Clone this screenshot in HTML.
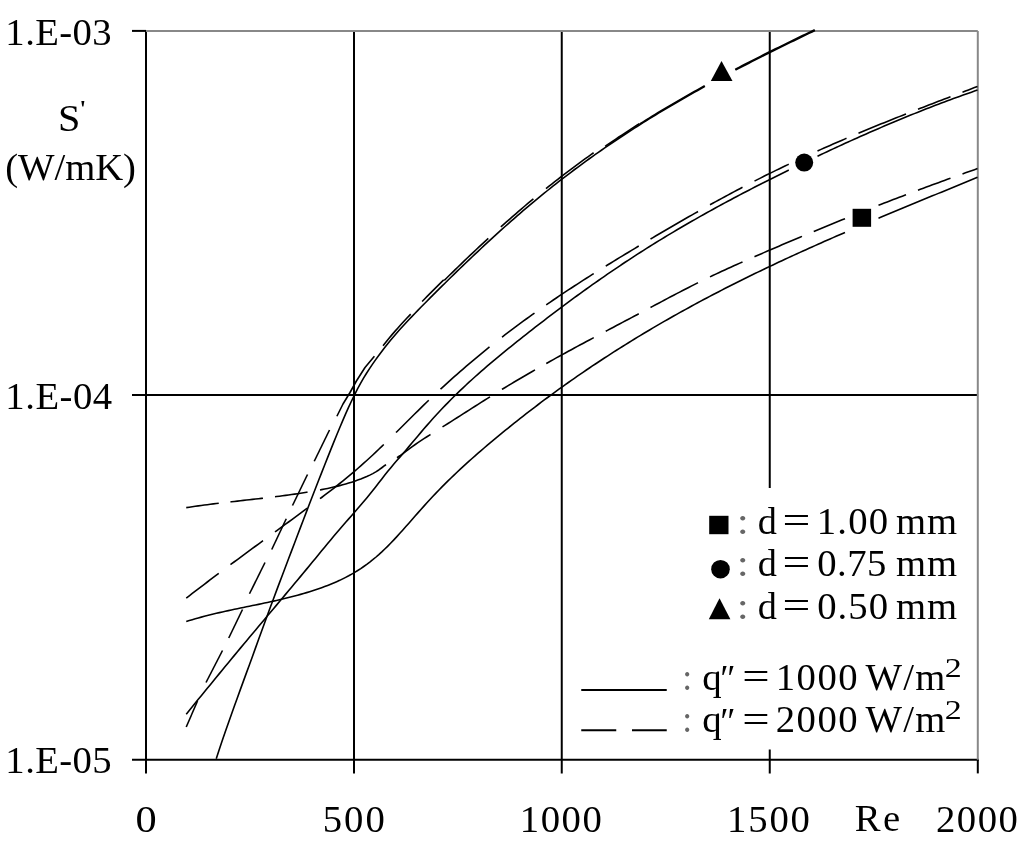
<!DOCTYPE html>
<html lang="en"><head><meta charset="utf-8"><title>S' vs Re</title>
<style>html,body{margin:0;padding:0;background:#fff;overflow:hidden}svg{display:block}</style>
</head><body>
<svg width="1024" height="845" viewBox="0 0 1024 845">
<rect width="1024" height="845" fill="#fff"/>
<g fill="none" stroke="#000" stroke-width="2">
<line x1="354.00" y1="30.90" x2="354.00" y2="773.40"/>
<line x1="561.75" y1="30.90" x2="561.75" y2="773.40"/>
<line x1="769.75" y1="30.90" x2="769.75" y2="773.40"/>
<line x1="132.00" y1="395.00" x2="977.80" y2="395.00"/>
<line x1="146.00" y1="29.90" x2="146.00" y2="773.40"/>
<line x1="132.00" y1="759.70" x2="978.80" y2="759.70"/>
<line x1="132.00" y1="30.90" x2="146.00" y2="30.90"/>
<line x1="977.80" y1="759.70" x2="977.80" y2="773.40"/>
</g>
<g fill="none" stroke="#888" stroke-width="2">
<line x1="146.00" y1="30.90" x2="977.80" y2="30.90"/>
<line x1="977.80" y1="30.90" x2="977.80" y2="759.70"/>
</g>
<g fill="none" stroke="#000" stroke-width="1.60" stroke-linejoin="round">
<polyline points="186.25,621.51 189.26,620.57 192.27,619.67 195.28,618.79 198.28,617.94 201.29,617.11 204.30,616.31 207.31,615.54 210.32,614.78 213.33,614.05 216.34,613.33 219.34,612.63 222.35,611.94 225.36,611.27 228.37,610.61 231.38,609.97 234.39,609.33 237.40,608.69 240.40,608.07 243.41,607.45 246.42,606.83 249.43,606.21 252.44,605.59 255.45,604.97 258.46,604.35 261.46,603.72 264.47,603.08 267.48,602.44 270.49,601.79 273.50,601.12 276.51,600.45 279.52,599.76 282.52,599.05 285.53,598.33 288.54,597.58 291.55,596.82 294.56,596.03 297.57,595.22 300.58,594.39 303.58,593.53 306.59,592.64 309.60,591.72 312.61,590.77 315.62,589.78 318.63,588.77 321.63,587.71 324.64,586.61 327.65,585.47 330.66,584.28 333.67,583.03 336.68,581.72 339.69,580.35 342.69,578.90 345.70,577.39 348.71,575.80 351.72,574.12 354.73,572.36 357.74,570.51 360.75,568.57 363.75,566.52 366.76,564.37 369.77,562.11 372.78,559.74 375.79,557.25 378.80,554.63 381.81,551.89 384.81,549.03 387.82,546.06 390.83,543.00 393.84,539.84 396.85,536.61 399.86,533.32 402.87,529.97 405.87,526.59 408.88,523.18 411.89,519.75 414.90,516.32 417.91,512.90 420.92,509.49 423.93,506.12 426.93,502.78 429.94,499.50 432.95,496.28 435.96,493.11 438.97,489.99 441.98,486.91 444.99,483.89 447.99,480.91 451.00,477.97 454.01,475.08 457.02,472.23 460.03,469.41 463.04,466.63 466.05,463.88 469.05,461.17 472.06,458.48 475.07,455.83 478.08,453.20 481.09,450.59 484.10,448.01 487.11,445.45 490.11,442.91 493.12,440.38 496.13,437.88 499.14,435.39 502.15,432.91 505.16,430.46 508.17,428.01 511.17,425.59 514.18,423.18 517.19,420.79 520.20,418.42 523.21,416.06 526.22,413.71 529.23,411.39 532.23,409.08 535.24,406.78 538.25,404.50 541.26,402.23 544.27,399.98 547.28,397.75 550.29,395.53 553.29,393.32 556.30,391.13 559.31,388.96 562.32,386.80 565.33,384.65 568.34,382.52 571.35,380.40 574.35,378.30 577.36,376.21 580.37,374.13 583.38,372.07 586.39,370.02 589.40,367.99 592.40,365.96 595.41,363.96 598.42,361.96 601.43,359.98 604.44,358.01 607.45,356.05 610.46,354.11 613.46,352.18 616.47,350.26 619.48,348.35 622.49,346.46 625.50,344.58 628.51,342.71 631.52,340.85 634.52,339.01 637.53,337.17 640.54,335.35 643.55,333.54 646.56,331.74 649.57,329.95 652.58,328.18 655.58,326.41 658.59,324.65 661.60,322.91 664.61,321.18 667.62,319.45 670.63,317.74 673.64,316.04 676.64,314.35 679.65,312.66 682.66,310.99 685.67,309.33 688.68,307.68 691.69,306.04 694.70,304.40 697.70,302.78 700.71,301.16 703.72,299.56 706.73,297.96 709.74,296.38 712.75,294.80 715.76,293.23 718.76,291.67 721.77,290.12 724.78,288.57 727.79,287.04 730.80,285.51 733.81,283.99 736.82,282.48 739.82,280.98 742.83,279.48 745.84,277.99 748.85,276.51 751.86,275.04 754.87,273.57 757.88,272.11 760.88,270.66 763.89,269.22 766.90,267.78 769.91,266.35 772.92,264.92 775.93,263.50 778.94,262.09 781.94,260.69 784.95,259.29 787.96,257.89 790.97,256.51 793.98,255.12 796.99,253.75 800.00,252.38 803.00,251.01 806.01,249.65 809.02,248.30 812.03,246.95 815.04,245.61 818.05,244.27 821.06,242.93 824.06,241.60 827.07,240.28 830.08,238.95 833.09,237.64 836.10,236.32 839.11,235.02 842.12,233.71 845.00,232.46"/>
<polyline points="878.50,218.21 881.23,217.06 884.23,215.80 887.24,214.54 890.25,213.29 893.26,212.03 896.27,210.78 899.28,209.53 902.29,208.28 905.29,207.03 908.30,205.79 911.31,204.54 914.32,203.30 917.33,202.06 920.34,200.82 923.35,199.58 926.35,198.34 929.36,197.10 932.37,195.86 935.38,194.62 938.39,193.38 941.40,192.15 944.41,190.91 947.41,189.67 950.42,188.43 953.43,187.20 956.44,185.96 959.45,184.72 962.46,183.48 965.47,182.24 968.47,181.00 971.48,179.76 974.49,178.52 977.50,177.27"/>
<polyline points="186.25,714.15 189.26,710.45 192.27,706.76 195.28,703.06 198.28,699.37 201.29,695.68 204.30,692.00 207.31,688.32 210.32,684.64 213.33,680.96 216.34,677.29 219.34,673.62 222.35,669.96 225.36,666.31 228.37,662.66 231.38,659.02 234.39,655.38 237.40,651.75 240.40,648.13 243.41,644.52 246.42,640.92 249.43,637.32 252.44,633.73 255.45,630.14 258.46,626.56 261.46,622.98 264.47,619.40 267.48,615.83 270.49,612.26 273.50,608.68 276.51,605.11 279.52,601.53 282.52,597.95 285.53,594.37 288.54,590.79 291.55,587.20 294.56,583.60 297.57,579.99 300.58,576.38 303.58,572.76 306.59,569.13 309.60,565.49 312.61,561.84 315.62,558.18 318.63,554.51 321.63,550.85 324.64,547.19 327.65,543.55 330.66,539.93 333.67,536.33 336.68,532.77 339.69,529.25 342.69,525.76 345.70,522.31 348.71,518.87 351.72,515.44 354.73,512.00 357.74,508.54 360.75,505.05 363.75,501.51 366.76,497.92 369.77,494.27 372.78,490.53 375.79,486.71 378.80,482.84 381.81,478.96 384.81,475.11 387.82,471.32 390.83,467.64 393.84,464.07 396.85,460.58 399.86,457.12 402.87,453.66 405.87,450.15 408.88,446.61 411.89,443.05 414.90,439.48 417.91,435.92 420.92,432.37 423.93,428.85 426.93,425.37 429.94,421.94 432.95,418.58 435.96,415.27 438.97,412.01 441.98,408.82 444.99,405.67 447.99,402.58 451.00,399.54 454.01,396.54 457.02,393.59 460.03,390.69 463.04,387.82 466.05,385.00 469.05,382.21 472.06,379.47 475.07,376.76 478.08,374.08 481.09,371.43 484.10,368.81 487.11,366.22 490.11,363.66 493.12,361.12 496.13,358.60 499.14,356.11 502.15,353.63 505.16,351.17 508.17,348.73 511.17,346.30 514.18,343.88 517.19,341.48 520.20,339.08 523.21,336.69 526.22,334.31 529.23,331.95 532.23,329.59 535.24,327.24 538.25,324.90 541.26,322.58 544.27,320.26 547.28,317.96 550.29,315.66 553.29,313.38 556.30,311.10 559.31,308.84 562.32,306.59 565.33,304.35 568.34,302.12 571.35,299.90 574.35,297.70 577.36,295.50 580.37,293.32 583.38,291.15 586.39,288.99 589.40,286.84 592.40,284.71 595.41,282.58 598.42,280.47 601.43,278.37 604.44,276.29 607.45,274.21 610.46,272.15 613.46,270.10 616.47,268.07 619.48,266.04 622.49,264.03 625.50,262.04 628.51,260.05 631.52,258.08 634.52,256.12 637.53,254.18 640.54,252.25 643.55,250.33 646.56,248.42 649.57,246.53 652.58,244.65 655.58,242.79 658.59,240.93 661.60,239.09 664.61,237.26 667.62,235.44 670.63,233.63 673.64,231.83 676.64,230.05 679.65,228.27 682.66,226.51 685.67,224.76 688.68,223.02 691.69,221.29 694.70,219.57 697.70,217.86 700.71,216.16 703.72,214.47 706.73,212.79 709.74,211.12 712.75,209.45 715.76,207.80 718.76,206.16 721.77,204.52 724.78,202.90 727.79,201.28 730.80,199.67 733.81,198.07 736.82,196.47 739.82,194.89 742.83,193.31 745.84,191.74 748.85,190.18 751.86,188.62 754.87,187.08 757.88,185.53 760.88,184.00 763.89,182.47 766.90,180.95 769.91,179.44 772.92,177.93 775.93,176.42 778.94,174.92 781.94,173.43 784.95,171.95 787.96,170.46 788.75,170.08"/>
<polyline points="817.50,156.20 818.05,155.94 821.06,154.52 824.06,153.10 827.07,151.69 830.08,150.29 833.09,148.89 836.10,147.50 839.11,146.11 842.12,144.73 845.12,143.35 848.13,141.99 851.14,140.62 854.15,139.27 857.16,137.92 860.17,136.58 863.17,135.24 866.18,133.92 869.19,132.59 872.20,131.28 875.21,129.97 878.22,128.67 881.23,127.38 884.23,126.09 887.24,124.81 890.25,123.54 893.26,122.27 896.27,121.01 899.28,119.76 902.29,118.52 905.29,117.28 908.30,116.06 911.31,114.83 914.32,113.62 917.33,112.42 920.34,111.22 923.35,110.03 926.35,108.85 929.36,107.68 932.37,106.51 935.38,105.36 938.39,104.21 941.40,103.07 944.41,101.94 947.41,100.82 950.42,99.70 953.43,98.60 956.44,97.50 959.45,96.41 962.46,95.33 965.47,94.26 968.47,93.20 971.48,92.15 974.49,91.11 977.50,90.07"/>
<polyline points="216.25,758.64 219.26,749.53 222.27,740.59 225.28,731.82 228.29,723.18 231.29,714.66 234.30,706.24 237.31,697.90 240.32,689.61 243.33,681.37 246.34,673.14 249.35,664.92 252.36,656.67 255.36,648.39 258.37,640.09 261.38,631.79 264.39,623.50 267.40,615.25 270.41,607.05 273.42,598.93 276.43,590.89 279.43,582.90 282.44,574.95 285.45,567.01 288.46,559.07 291.47,551.13 294.48,543.20 297.49,535.28 300.50,527.38 303.51,519.50 306.51,511.64 309.52,503.81 312.53,496.01 315.54,488.25 318.55,480.53 321.56,472.84 324.57,465.21 327.58,457.62 330.58,450.09 333.59,442.62 336.60,435.24 339.61,427.97 342.62,420.85 345.63,413.92 348.64,407.20 351.65,400.73 354.65,394.54 357.66,388.66 360.67,383.12 363.68,377.92 366.69,373.01 369.70,368.35 372.71,363.90 375.72,359.62 378.72,355.47 381.73,351.45 384.74,347.55 387.75,343.77 390.76,340.09 393.77,336.50 396.78,333.01 399.79,329.59 402.80,326.25 405.80,322.97 408.81,319.75 411.82,316.58 414.83,313.45 417.84,310.36 420.85,307.29 423.86,304.25 426.87,301.21 429.87,298.18 432.88,295.17 435.89,292.16 438.90,289.17 441.91,286.18 444.92,283.21 447.93,280.25 450.94,277.29 453.94,274.36 456.95,271.43 459.96,268.52 462.97,265.62 465.98,262.73 468.99,259.85 472.00,256.99 475.01,254.15 478.02,251.31 481.02,248.50 484.03,245.69 487.04,242.91 490.05,240.13 493.06,237.38 496.07,234.64 499.08,231.91 502.09,229.20 505.09,226.51 508.10,223.84 511.11,221.18 514.12,218.54 517.13,215.92 520.14,213.32 523.15,210.73 526.16,208.16 529.16,205.62 532.17,203.09 535.18,200.58 538.19,198.09 541.20,195.62 544.21,193.18 547.22,190.75 550.23,188.34 553.23,185.95 556.24,183.58 559.25,181.23 562.26,178.90 565.27,176.59 568.28,174.29 571.29,172.02 574.30,169.76 577.31,167.52 580.31,165.30 583.32,163.10 586.33,160.91 589.34,158.74 592.35,156.59 595.36,154.46 598.37,152.34 601.38,150.24 604.38,148.15 607.39,146.08 610.40,144.03 613.41,141.99 616.42,139.97 619.43,137.96 622.44,135.96 625.45,133.99 628.45,132.02 631.46,130.08 634.47,128.14 637.48,126.22 640.49,124.31 643.50,122.42 646.51,120.54 649.52,118.67 652.53,116.82 655.53,114.98 658.54,113.15 661.55,111.34 664.56,109.53 667.57,107.74 670.58,105.96 673.59,104.19 676.60,102.44 679.60,100.69 682.61,98.96 685.62,97.23 688.63,95.52 691.64,93.82 694.65,92.12 697.66,90.44 700.67,88.77 703.67,87.11 705.00,86.38"/>
<polyline points="735.50,70.05 736.77,69.39 739.78,67.83 742.79,66.27 745.80,64.72 748.81,63.18 751.82,61.64 754.82,60.11 757.83,58.58 760.84,57.07 763.85,55.55 766.86,54.05 769.87,52.54 772.88,51.05 775.89,49.55 778.89,48.06 781.90,46.58 784.91,45.10 787.92,43.63 790.93,42.15 793.94,40.69 796.95,39.22 799.96,37.76 802.96,36.30 805.97,34.85 808.98,33.39 811.99,31.94 815.00,30.49"/>
<polyline points="186.25,507.65 189.26,507.19 192.27,506.74 195.28,506.31 198.28,505.88 201.29,505.47 204.30,505.07 207.31,504.67 210.32,504.29 213.33,503.91 216.34,503.54 218.75,503.25"/>
<polyline points="230.50,501.87 231.38,501.77 234.39,501.43 237.40,501.09 240.40,500.75 243.41,500.41 246.42,500.07 249.43,499.73 252.44,499.39 255.45,499.05 258.46,498.71 261.46,498.36 263.00,498.18"/>
<polyline points="275.00,496.74 276.51,496.55 279.52,496.17 282.52,495.78 285.53,495.38 288.54,494.98 291.55,494.56 294.56,494.13 297.57,493.69 300.58,493.24 303.58,492.77 306.59,492.30 307.50,492.15"/>
<polyline points="320.00,489.96 321.63,489.65 324.64,489.05 327.65,488.43 330.66,487.77 333.67,487.09 336.68,486.37 339.69,485.61 342.69,484.82 345.70,483.98 348.71,483.10 351.72,482.16 354.73,481.17 357.74,480.11 360.75,478.99 363.75,477.79 366.76,476.51 369.77,475.13 372.78,473.62 375.79,471.91 378.80,469.97 381.81,467.76 384.81,465.47 386.00,464.65"/>
<polyline points="397.00,457.76 399.86,455.78 402.87,453.54 405.87,451.26 408.88,449.03 411.89,446.86 414.90,444.75 417.91,442.69 420.92,440.67 423.93,438.69 426.93,436.75 429.94,434.83 430.50,434.48"/>
<polyline points="442.50,426.94 444.99,425.38 447.99,423.49 451.00,421.58 454.01,419.67 457.02,417.76 460.03,415.84 463.04,413.92 466.05,412.01 469.05,410.09 472.06,408.17 475.07,406.25 478.08,404.34 481.09,402.43 484.10,400.53 487.11,398.63 490.00,396.81"/>
<polyline points="502.00,389.38 502.15,389.29 505.16,387.45 508.17,385.63 511.17,383.82 514.18,382.02 517.19,380.24 520.20,378.46 523.21,376.70 526.22,374.94 529.23,373.20 532.23,371.47 535.00,369.88"/>
<polyline points="546.25,363.51 547.28,362.94 550.29,361.26 553.29,359.58 556.30,357.92 559.31,356.26 562.32,354.60 565.33,352.96 568.34,351.32 571.35,349.68 574.35,348.05 577.36,346.42 580.37,344.80 583.38,343.19 586.39,341.57 589.40,339.96 592.40,338.36 593.75,337.64"/>
<polyline points="605.75,331.26 607.45,330.36 610.46,328.77 613.46,327.18 616.47,325.58 619.48,323.99 622.49,322.40 625.50,320.80 628.51,319.21 631.52,317.61 634.52,316.01 637.53,314.42 638.75,313.77"/>
<polyline points="650.50,307.50 652.58,306.40 655.58,304.79 658.59,303.19 661.60,301.59 664.61,299.99 667.62,298.40 670.63,296.82 673.64,295.23 676.64,293.66 679.65,292.09 682.66,290.53 685.67,288.98 688.68,287.44 691.69,285.91 694.70,284.39 697.70,282.88 698.00,282.73"/>
<polyline points="710.00,276.85 712.75,275.53 715.76,274.11 718.76,272.70 721.77,271.30 724.78,269.91 727.79,268.54 730.80,267.17 733.81,265.82 736.82,264.47 739.82,263.13 742.50,261.95"/>
<polyline points="754.50,256.69 754.87,256.53 757.88,255.22 760.88,253.92 763.89,252.61 766.90,251.31 769.91,250.02 772.92,248.72 775.93,247.43 778.94,246.14 781.94,244.86 784.95,243.58 787.96,242.30 790.97,241.02 793.98,239.75 796.99,238.48 800.00,237.21 802.00,236.37"/>
<polyline points="813.75,231.47 815.04,230.93 818.05,229.68 821.06,228.44 824.06,227.20 827.07,225.96 830.08,224.73 833.09,223.50 836.10,222.27 839.11,221.04 842.12,219.82 845.00,218.66"/>
<polyline points="878.50,205.33 881.23,204.26 884.23,203.09 887.24,201.92 890.25,200.76 893.26,199.60 896.27,198.44 899.28,197.29 902.29,196.14 905.29,194.99 906.00,194.72"/>
<polyline points="918.00,190.19 920.34,189.31 923.35,188.19 926.35,187.07 929.36,185.95 932.37,184.84 935.38,183.73 938.39,182.63 941.40,181.52 944.41,180.43 947.41,179.33 950.42,178.25 950.50,178.22"/>
<polyline points="962.50,173.91 965.47,172.86 968.47,171.79 971.48,170.73 974.49,169.68 977.50,168.62"/>
<polyline points="186.25,598.12 189.26,595.79 192.27,593.47 195.28,591.16 198.28,588.85 201.29,586.56 204.30,584.27 207.31,581.99 210.32,579.71 213.33,577.45 216.34,575.19 218.75,573.38"/>
<polyline points="230.50,564.63 231.38,563.97 234.39,561.75 237.40,559.52 240.40,557.30 243.41,555.08 246.42,552.87 249.43,550.66 252.44,548.45 255.45,546.24 258.46,544.04 261.46,541.83 263.00,540.71"/>
<polyline points="275.00,531.93 276.51,530.83 279.52,528.62 282.52,526.42 285.53,524.21 288.54,522.01 291.55,519.80 294.56,517.59 297.57,515.37 300.58,513.16 303.58,510.94 306.59,508.71 307.50,508.04"/>
<polyline points="320.00,498.72 321.63,497.49 324.64,495.21 327.65,492.91 330.66,490.59 333.67,488.26 336.68,485.89 339.69,483.50 342.69,481.08 345.70,478.63 348.71,476.15 351.72,473.64 354.73,471.09 357.74,468.50 360.75,465.87 363.75,463.21 366.76,460.50 369.77,457.75 372.78,454.97 375.79,452.15 378.80,449.29 381.81,446.41 383.75,444.54"/>
<polyline points="396.00,432.54 396.85,431.70 399.86,428.72 402.87,425.73 405.87,422.74 408.88,419.75 411.89,416.77 414.90,413.79 417.91,410.82 420.92,407.87 423.93,404.94 426.93,402.03 428.75,400.29"/>
<polyline points="440.50,389.21 441.98,387.85 444.99,385.09 447.99,382.35 451.00,379.64 454.01,376.95 457.02,374.29 460.03,371.65 463.04,369.03 466.05,366.44 469.05,363.87 472.06,361.32 475.07,358.80 478.08,356.30 481.09,353.82 484.10,351.36 487.11,348.92 489.50,346.99"/>
<polyline points="502.00,337.15 502.15,337.03 505.16,334.71 508.17,332.42 511.17,330.14 514.18,327.88 517.19,325.63 520.20,323.41 523.21,321.20 526.22,319.01 529.23,316.84 532.23,314.68 534.50,313.07"/>
<polyline points="546.25,304.84 547.28,304.13 550.29,302.06 553.29,300.01 556.30,297.97 559.31,295.95 562.32,293.93 565.33,291.93 568.34,289.95 571.35,287.97 574.35,286.01 577.36,284.05 580.37,282.11 583.38,280.18 586.39,278.26 589.40,276.34 592.40,274.44 593.75,273.59"/>
<polyline points="605.75,266.10 607.45,265.05 610.46,263.20 613.46,261.35 616.47,259.51 619.48,257.68 622.49,255.85 625.50,254.03 628.51,252.21 631.52,250.40 634.52,248.59 637.53,246.78 638.75,246.06"/>
<polyline points="650.50,239.05 652.58,237.82 655.58,236.04 658.59,234.27 661.60,232.49 664.61,230.73 667.62,228.97 670.63,227.21 673.64,225.46 676.64,223.72 679.65,221.98 682.66,220.25 685.67,218.52 688.68,216.80 691.69,215.09 694.70,213.38 697.70,211.68 698.00,211.51"/>
<polyline points="710.00,204.80 712.75,203.29 715.76,201.63 718.76,199.98 721.77,198.34 724.78,196.71 727.79,195.09 730.80,193.47 733.81,191.87 736.82,190.27 739.82,188.68 742.50,187.28"/>
<polyline points="754.50,181.08 754.87,180.89 757.88,179.37 760.88,177.85 763.89,176.34 766.90,174.84 769.91,173.35 772.92,171.87 775.93,170.40 778.94,168.94 781.94,167.49 784.95,166.05 787.96,164.61 788.75,164.24"/>
<polyline points="817.50,150.98 818.05,150.74 821.06,149.39 824.06,148.06 827.07,146.73 830.08,145.40 833.09,144.09 836.10,142.78 839.11,141.47 842.12,140.18 845.12,138.89 846.50,138.30"/>
<polyline points="858.50,133.23 860.17,132.53 863.17,131.28 866.18,130.03 869.19,128.78 872.20,127.55 875.21,126.31 878.22,125.09 881.23,123.86 884.23,122.64 887.24,121.43 890.25,120.22 893.26,119.01 896.27,117.81 899.28,116.62 902.29,115.42 905.29,114.23 906.00,113.96"/>
<polyline points="918.00,109.25 920.34,108.34 923.35,107.17 926.35,106.00 929.36,104.84 932.37,103.68 935.38,102.52 938.39,101.36 941.40,100.20 944.41,99.05 947.41,97.90 950.42,96.75 950.50,96.72"/>
<polyline points="962.50,92.16 965.47,91.03 968.47,89.89 971.48,88.75 974.49,87.61 977.50,86.47"/>
<polyline points="186.25,727.00 197.50,701.00"/>
<polyline points="206.00,682.50 222.50,650.50"/>
<polyline points="228.75,638.00 242.50,609.50"/>
<polyline points="249.50,593.75 265.00,562.50"/>
<polyline points="271.75,549.50 286.25,518.75"/>
<polyline points="292.50,505.50 307.50,474.50"/>
<polyline points="314.25,461.25 329.50,430.00"/>
<polyline points="336.90,416.25 343.00,404.00 350.00,392.50 356.25,381.25 365.00,367.50 374.40,356.25"/>
<polyline points="383.04,345.67 385.81,342.20 388.83,338.49 391.86,334.88 394.89,331.36 397.92,327.93 400.95,324.57 403.97,321.27 406.99,318.04 410.01,314.86 410.70,314.14"/>
<polyline points="422.13,301.45 424.59,298.96 427.61,295.93 430.62,292.91 433.63,289.90 436.65,286.90 439.66,283.91 442.67,280.93 443.76,279.86"/>
<polyline points="444.25,280.36 446.18,278.46 449.19,275.51 452.20,272.57 455.21,269.64 458.23,266.72 461.24,263.81 464.25,260.92 467.26,258.04 470.28,255.18 473.29,252.33 476.30,249.49 479.32,246.67 482.33,243.86 485.34,241.07 488.31,238.34"/>
<polyline points="500.83,226.97 503.43,224.65 506.45,221.97 509.46,219.30 512.48,216.66 515.49,214.03 518.51,211.42 521.52,208.83 524.54,206.26 527.55,203.71 530.57,201.17 533.40,198.81"/>
<polyline points="546.00,188.65 548.73,186.46 551.75,184.07 554.76,181.69 557.78,179.34 560.80,177.00 563.81,174.68 566.83,172.38 569.84,170.10 572.86,167.84 575.88,165.59 578.89,163.37 581.91,161.16 584.92,158.97 587.94,156.79 590.96,154.64 593.61,152.75"/>
<polyline points="605.13,146.30 606.77,145.17 609.78,143.12 612.80,141.08 615.81,139.05 618.82,137.04 621.83,135.05 624.84,133.07 627.86,131.10 630.87,129.15 633.88,127.21 636.89,125.29 639.41,123.69"/>
<polyline points="639.63,124.03 640.12,123.72 643.13,121.83 646.14,119.95 649.15,118.08 652.16,116.22 655.17,114.38 658.18,112.55 661.19,110.74 664.20,108.93 667.21,107.14 670.22,105.36 673.23,103.59 676.24,101.83 679.25,100.08 682.26,98.35 685.27,96.62 688.29,94.91 691.30,93.21 694.31,91.51 697.32,89.83 700.33,88.16 703.34,86.49 704.66,85.76"/>
<polyline points="735.13,69.34 736.40,68.68 739.41,67.12 742.42,65.56 745.43,64.01 748.44,62.46 751.45,60.93 754.46,59.40 757.47,57.87 760.48,56.35 763.49,54.84 766.50,53.33 769.51,51.83 772.52,50.33 775.53,48.84 778.54,47.35 781.55,45.86 784.56,44.38 787.57,42.91 790.58,41.44 793.59,39.97 796.60,38.50 799.61,37.04 802.62,35.58 805.63,34.13 808.63,32.67 811.64,31.22 814.65,29.77"/>
</g>
<g fill="#000">
<polygon points="721.5,61 732.5,80.9 710.8,80.9"/>
<circle cx="804.2" cy="162.6" r="9"/>
<rect x="852.6" y="208.8" width="18.5" height="18"/>
</g>
<rect x="575" y="488" width="392" height="261.5" fill="#fff"/>
<g fill="#000">
<rect x="709.2" y="515.8" width="19.3" height="18.4"/>
<circle cx="720.5" cy="569.2" r="9.3"/>
<polygon points="719.5,598.3 730.4,619.2 708.8,619.2"/>
</g>
<g fill="none" stroke="#000" stroke-width="2">
<line x1="581.25" y1="689.9" x2="666.75" y2="689.9"/>
<line x1="581.25" y1="730.2" x2="616.25" y2="730.2"/>
<line x1="632" y1="730.2" x2="666.75" y2="730.2"/>
</g>
<g font-family="'Liberation Serif', 'Times New Roman', serif" font-size="38.7" fill="#000">
<text><tspan x="5.36" y="44.70" letter-spacing="0.428">1.E-03</tspan></text>
<text><tspan x="5.36" y="409.00" letter-spacing="0.504">1.E-04</tspan></text>
<text><tspan x="5.36" y="773.40" letter-spacing="0.428">1.E-05</tspan></text>
<text><tspan x="58.08" y="131.20" textLength="22.38" lengthAdjust="spacingAndGlyphs">S</tspan><tspan x="79.96" y="115.50" textLength="5.69" lengthAdjust="spacingAndGlyphs" font-size="24">'</tspan></text>
<text><tspan x="5.26" y="179.60" letter-spacing="-0.082">(W/mK)</tspan></text>
<text><tspan x="135.41" y="832.10" textLength="21.18" lengthAdjust="spacingAndGlyphs">0</tspan></text>
<text><tspan x="322.77" y="832.10" letter-spacing="2.013">500</tspan></text>
<text><tspan x="519.71" y="832.10" letter-spacing="1.579">1000</tspan></text>
<text><tspan x="727.11" y="832.10" letter-spacing="1.812">1500</tspan></text>
<text><tspan x="854.84" y="830.70" letter-spacing="2.362">Re</tspan></text>
<text><tspan x="936.06" y="832.10" letter-spacing="1.464">2000</tspan></text>
<text><tspan x="736.83" y="534.10" textLength="12.06" lengthAdjust="spacingAndGlyphs" fill="#666">:</tspan> <tspan x="757.86" y="534.10" textLength="19.12" lengthAdjust="spacingAndGlyphs">d</tspan> <tspan x="782.53" y="532.90" textLength="27.90" lengthAdjust="spacingAndGlyphs">=</tspan> <tspan x="816.81" y="534.10" letter-spacing="1.171">1.00</tspan> <tspan x="895.93" y="534.10" letter-spacing="1.076">mm</tspan></text>
<text><tspan x="736.83" y="576.40" textLength="12.06" lengthAdjust="spacingAndGlyphs" fill="#666">:</tspan> <tspan x="757.86" y="576.40" textLength="19.12" lengthAdjust="spacingAndGlyphs">d</tspan> <tspan x="782.53" y="575.20" textLength="27.90" lengthAdjust="spacingAndGlyphs">=</tspan> <tspan x="817.15" y="576.40" letter-spacing="0.525">0.75</tspan> <tspan x="895.93" y="576.40" letter-spacing="1.076">mm</tspan></text>
<text><tspan x="736.83" y="618.70" textLength="12.06" lengthAdjust="spacingAndGlyphs" fill="#666">:</tspan> <tspan x="757.86" y="618.70" textLength="19.12" lengthAdjust="spacingAndGlyphs">d</tspan> <tspan x="782.53" y="617.50" textLength="27.90" lengthAdjust="spacingAndGlyphs">=</tspan> <tspan x="817.15" y="618.70" letter-spacing="1.059">0.50</tspan> <tspan x="895.93" y="618.70" letter-spacing="1.076">mm</tspan></text>
<text><tspan x="682.24" y="689.80" textLength="9.93" lengthAdjust="spacingAndGlyphs" fill="#666">:</tspan> <tspan x="702.24" y="689.80" textLength="19.44" lengthAdjust="spacingAndGlyphs">q</tspan><tspan x="720.28" y="691.30" textLength="15.31" lengthAdjust="spacingAndGlyphs">″</tspan> <tspan x="742.17" y="689.20" textLength="27.41" lengthAdjust="spacingAndGlyphs">=</tspan> <tspan x="775.71" y="689.80" letter-spacing="1.513">1000</tspan> <tspan x="865.50" y="689.80" letter-spacing="1.240">W/m</tspan><tspan x="944.67" y="677.10" textLength="17.00" lengthAdjust="spacingAndGlyphs" font-size="27.8">2</tspan></text>
<text><tspan x="682.24" y="732.10" textLength="9.93" lengthAdjust="spacingAndGlyphs" fill="#666">:</tspan> <tspan x="702.24" y="732.10" textLength="19.44" lengthAdjust="spacingAndGlyphs">q</tspan><tspan x="720.28" y="733.60" textLength="15.31" lengthAdjust="spacingAndGlyphs">″</tspan> <tspan x="742.17" y="731.50" textLength="27.41" lengthAdjust="spacingAndGlyphs">=</tspan> <tspan x="775.76" y="732.10" letter-spacing="1.498">2000</tspan> <tspan x="865.50" y="732.10" letter-spacing="1.240">W/m</tspan><tspan x="944.67" y="719.40" textLength="17.00" lengthAdjust="spacingAndGlyphs" font-size="27.8">2</tspan></text>
</g>
</svg>
</body></html>
